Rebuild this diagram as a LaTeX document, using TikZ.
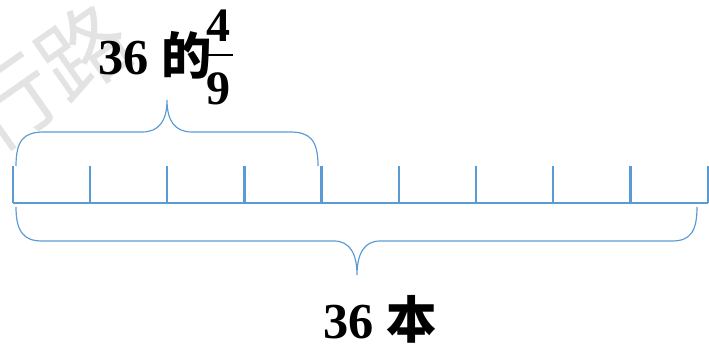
\documentclass[tikz,border=0pt]{standalone}
\usepackage{fontspec}
\setmainfont{Liberation Serif}
\newfontfamily\cjkfont{Noto Sans CJK SC}
\usetikzlibrary{positioning}

\definecolor{barblue}{RGB}{91,155,213}

\tikzset{
  bar-line/.style={draw=barblue, line width=2pt},
  bar-tick/.style={draw=barblue, line width=2pt},
  bar-brace/.style={draw=barblue, line width=1pt},
  bar-label/.style={inner sep=0pt, font=\fontsize{43}{43}\selectfont\bfseries},
  bar-frac/.style={inner sep=0pt, font=\fontsize{41}{41}\selectfont\bfseries},
  bar-mark/.style={inner sep=0pt, text=black!11, font=\fontsize{76}{76}\selectfont\cjkfont},
}

\begin{document}
\begin{tikzpicture}[x=0.03cm, y=-0.03cm]
    \useasboundingbox (0,0) rectangle (709,348);
    \clip (0,0) rectangle (709,348);

    % Watermark
    \node[bar-mark, rotate=35] (mark) at (47,77) {行路};

    % Segment with nine equal parts
    \foreach \i in {0,...,9}
        \coordinate (t\i) at ({12.7+77.22*\i}, 203);
    \draw[bar-line] (t0) -- (t9);
    \foreach \i in {0,...,9}
        \draw[bar-tick] (t\i) -- ++(0,-37);

    % Brace: four of nine parts
    \draw[bar-brace] (16,166) .. controls (16,140) and (24,132) .. (44,132)
        -- (142,132) .. controls (159,132) and (167,121) .. (167,100)
        .. controls (167,121) and (175,132) .. (192,132)
        -- (290,132) .. controls (310,132) and (318,140) .. (318,166);

    % Brace: whole segment
    \draw[bar-brace] (16,207) .. controls (16,232) and (24,241) .. (42,241)
        -- (334,241) .. controls (350,241) and (357,254) .. (357,275)
        .. controls (357,254) and (364,241) .. (380,241)
        -- (672,241) .. controls (690,241) and (697,232) .. (697,207);

    % Labels
    \node[bar-label, anchor=base west] (part) at (98,75) {36 {\cjkfont 的}};
    \node[bar-frac, anchor=base] (num) at (218.5,42) {4};
    \node[bar-frac, anchor=base] (den) at (218.5,105) {9};
    \draw[line width=1.8pt] (204,55) -- (233,55);

    \node[bar-label, anchor=base] (whole) at (380,338) {36 {\cjkfont 本}};

\end{tikzpicture}
\end{document}
